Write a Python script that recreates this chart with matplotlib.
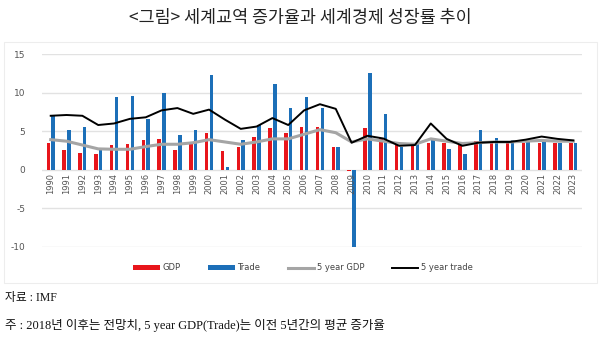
import matplotlib
matplotlib.use("Agg")
import matplotlib.pyplot as plt
import numpy as np
from matplotlib.patches import Rectangle

plt.rcParams['font.family'] = ['Noto Sans CJK KR', 'DejaVu Sans']

# data (growth rate, %)
years = list(range(1990, 2024))
gdp = [3.4, 2.5, 2.2, 2.0, 3.2, 3.3, 3.8, 4.0, 2.6, 3.3,
       4.7, 2.4, 3.0, 4.2, 5.35, 4.8, 5.5, 5.6, 3.0, -0.15,
       5.35, 4.1, 3.5, 3.2, 3.5, 3.4, 3.2, 3.7, 3.5, 3.5,
       3.5, 3.5, 3.5, 3.5]
trade = [7.0, 5.1, 5.6, 2.7, 9.4, 9.6, 6.6, 9.9, 4.5, 5.1,
         12.3, 0.4, 3.8, 5.8, 11.1, 8.0, 9.4, 8.0, 3.0, -10.2,
         12.5, 7.2, 3.0, 3.3, 3.8, 2.7, 2.1, 5.1, 4.1, 3.9,
         3.8, 3.6, 3.5, 3.5]
gdp_5y = [3.9, 3.7, 3.2, 2.7, 2.65, 2.65, 3.0, 3.3, 3.3, 3.5,
          3.9, 3.6, 3.3, 3.6, 4.0, 4.0, 4.6, 5.2, 4.8, 3.6,
          4.0, 3.7, 3.4, 3.3, 4.0, 3.7, 3.4, 3.5, 3.6, 3.6,
          3.7, 3.8, 3.7, 3.7]
trade_5y = [7.0, 7.1, 7.0, 5.8, 6.0, 6.6, 6.8, 7.7, 8.0, 7.25,
            7.8, 6.5, 5.3, 5.6, 6.7, 5.8, 7.7, 8.5, 7.9, 3.5,
            4.4, 4.05, 3.1, 3.2, 6.0, 4.0, 3.1, 3.5, 3.6, 3.6,
            3.9, 4.3, 4.0, 3.8]

x = np.arange(len(years))

fig = plt.figure(figsize=(6.0, 3.61), dpi=100)
ax = fig.add_axes([0.07, 0.3166, 0.90, 0.5334])

b1 = ax.bar(x - 0.15, gdp, width=0.22, color='#E8151B', label='GDP', zorder=2)
b2 = ax.bar(x + 0.15, trade, width=0.22, color='#1C6FB8', label='Trade', zorder=2)
l1, = ax.plot(x, gdp_5y, color='#A5A5A5', lw=2.2, label='5 year GDP', zorder=3)
l2, = ax.plot(x, trade_5y, color='black', lw=1.4, label='5 year trade', zorder=4)

ax.set_xlim(-0.55, len(years) - 0.45)
ax.set_ylim(-10, 15)
ax.set_yticks([-10, -5, 0, 5, 10, 15])
ax.set_yticklabels(['-10', '-5', '0', '5', '10', '15'], fontsize=6.5,
                   color='#555555', family='DejaVu Sans')
ax.tick_params(axis='y', length=0, pad=12)
ax.set_xticks([])
ax.grid(axis='y', color='#E2E2E2', lw=1.0, zorder=0)
for s in ax.spines.values():
    s.set_visible(False)

# year labels sit just under the zero line
for i, yr in zip(x, years):
    ax.text(i, -0.45, str(yr), rotation=90, ha='center', va='top',
            fontsize=6, color='#555555', family='DejaVu Sans')

fig.legend(handles=[b1, b2, l1, l2], loc='center',
           bbox_to_anchor=(0.505, 0.258), ncol=4, frameon=False,
           prop={'family': 'DejaVu Sans', 'size': 6}, handlelength=3.2,
           handleheight=0.5, columnspacing=3.3, handletextpad=0.3,
           labelcolor='#444444')

# faint frame around the chart area
fig.patches.append(Rectangle((4 / 600, 1 - 283 / 361), 593 / 600, 241 / 361,
                             transform=fig.transFigure, fill=False,
                             ec='#EDEDED', lw=0.8))

fig.text(0.5, 1 - 18 / 361, '<그림> 세계교역 증가율과 세계경제 성장률 추이',
         ha='center', va='center', fontsize=12.5, color='#222222',
         fontweight='light')
fig.text(0.008, 1 - 298 / 361, '자료 : IMF', ha='left', va='center',
         fontsize=8.5, color='#111111',
         family=['Liberation Serif', 'Noto Sans CJK KR'])
fig.text(0.008, 1 - 325 / 361,
         '주 : 2018년 이후는 전망치, 5 year GDP(Trade)는 이전 5년간의 평균 증가율',
         ha='left', va='center', fontsize=9, color='#111111',
         family=['Liberation Serif', 'Noto Sans CJK KR'])

fig.savefig('out.png', dpi=100, facecolor='white')
